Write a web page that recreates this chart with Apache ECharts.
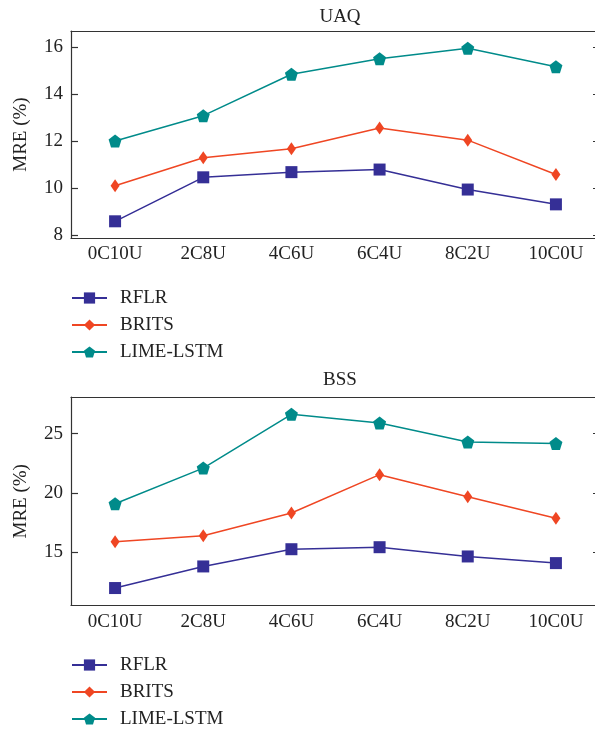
<!DOCTYPE html>
<html>
<head>
<meta charset="utf-8">
<script src="https://cdn.jsdelivr.net/npm/echarts@6/dist/echarts.min.js"></script>
<style>
  html, body { margin: 0; padding: 0; background: #fff; }
  #main { width: 595px; height: 729px; }
</style>
</head>
<body>
<div id="main"></div>
<script>
var categories = ['0C10U', '2C8U', '4C6U', '6C4U', '8C2U', '10C0U'];
var seriesNames = ['RFLR', 'BRITS', 'LIME-LSTM'];

// UAQ
var uaqRFLR = [8.58, 10.45, 10.67, 10.78, 9.93, 9.3];
var uaqBRITS = [10.09, 11.28, 11.66, 12.55, 12.03, 10.57];
var uaqLIME = [11.99, 13.07, 14.83, 15.49, 15.94, 15.15];
var uaqTicks = [8, 10, 12, 14, 16];

// BSS
var bssRFLR = [12.0, 13.82, 15.27, 15.44, 14.66, 14.1];
var bssBRITS = [15.9, 16.41, 18.32, 21.55, 19.69, 17.87];
var bssLIME = [19.1, 22.1, 26.63, 25.9, 24.3, 24.18];
var bssTicks = [15, 20, 25];

var colors = ['#352f96', '#ef4623', '#008b8a'];
var pentagon = 'path://M0,-1 L0.951,-0.309 L0.588,0.809 L-0.588,0.809 L-0.951,-0.309 Z';
var symbols = ['rect', 'diamond', pentagon];
var symbolSizes = [12, [9, 13], 13];
var font = '"Liberation Serif", "DejaVu Serif", serif';
var axisColor = '#333';

function xAxes(gi) {
    return [
        {
            type: 'category', gridIndex: gi, data: categories, position: 'bottom',
            axisLine: { lineStyle: { color: axisColor, width: 1.2 } },
            axisTick: { inside: true, alignWithLabel: true, length: 9, lineStyle: { color: axisColor, width: 1.2 } },
            axisLabel: { color: '#222', fontFamily: font, fontSize: 19, margin: 7 }
        },
        {
            type: 'category', gridIndex: gi, data: categories, position: 'top',
            axisLine: { lineStyle: { color: axisColor, width: 1.2 } },
            axisTick: { inside: true, alignWithLabel: true, length: 9, lineStyle: { color: axisColor, width: 1.2 } },
            axisLabel: { show: false }
        }
    ];
}

function yAxes(gi, min, max, ticks) {
    return [
        {
            type: 'value', gridIndex: gi, min: min, max: max, position: 'left',
            name: 'MRE (%)', nameLocation: 'middle', nameGap: 40,
            nameTextStyle: { color: '#222', fontFamily: font, fontSize: 19 },
            splitLine: { show: false },
            axisLine: { show: true, lineStyle: { color: axisColor, width: 1.2 } },
            axisTick: { show: true, inside: true, length: 7, customValues: ticks, lineStyle: { color: axisColor, width: 1.2 } },
            axisLabel: { color: '#222', fontFamily: font, fontSize: 19, margin: 8, customValues: ticks }
        },
        {
            type: 'value', gridIndex: gi, min: min, max: max, position: 'right',
            splitLine: { show: false },
            axisLine: { show: true, lineStyle: { color: axisColor, width: 1.2 } },
            axisTick: { show: true, inside: true, length: 7, customValues: ticks, lineStyle: { color: axisColor, width: 1.2 } },
            axisLabel: { show: false }
        }
    ];
}

function makeSeries(gi, datas) {
    return datas.map(function (d, i) {
        return {
            name: seriesNames[i], type: 'line', data: d,
            xAxisIndex: gi * 2, yAxisIndex: gi * 2,
            symbol: symbols[i], symbolSize: symbolSizes[i],
            lineStyle: { color: colors[i], width: 1.5 },
            itemStyle: { color: colors[i] },
            z: 3 - i
        };
    });
}

function legend(top) {
    return {
        orient: 'vertical', left: 71, top: top, padding: 0,
        data: seriesNames, itemWidth: 35, itemHeight: 14, itemGap: 7,
        textStyle: { color: '#222', fontFamily: font, fontSize: 19, lineHeight: 20, padding: [0, 0, 0, 8] }
    };
}

var option = {
    animation: false,
    backgroundColor: '#fff',
    title: [
        { text: 'UAQ', left: 335, top: 3, textAlign: 'center', textStyle: { color: '#222', fontFamily: font, fontSize: 19, fontWeight: 'normal' } },
        { text: 'BSS', left: 335, top: 366, textAlign: 'center', textStyle: { color: '#222', fontFamily: font, fontSize: 19, fontWeight: 'normal' } }
    ],
    legend: [legend(288), legend(655)],
    grid: [
        { left: 71, top: 31, width: 529, height: 207, outerBoundsMode: 'none', containLabel: false },
        { left: 71, top: 397, width: 529, height: 208.5, outerBoundsMode: 'none', containLabel: false }
    ],
    xAxis: xAxes(0).concat(xAxes(1)),
    yAxis: yAxes(0, 7.87, 16.67, uaqTicks).concat(yAxes(1, 10.53, 28.09, bssTicks)),
    series: makeSeries(0, [uaqRFLR, uaqBRITS, uaqLIME]).concat(makeSeries(1, [bssRFLR, bssBRITS, bssLIME]))
};

var chart = echarts.init(document.getElementById('main'));
chart.setOption(option);
</script>
</body>
</html>
